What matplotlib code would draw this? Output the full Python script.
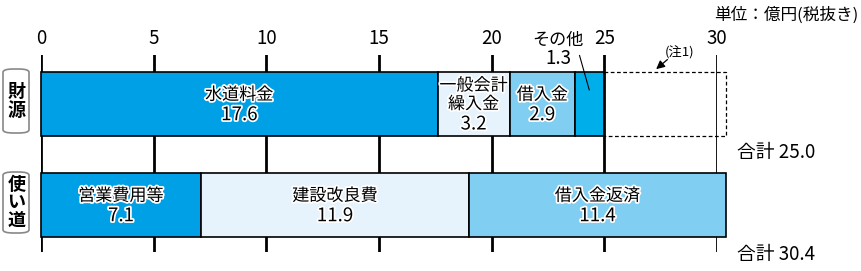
import matplotlib
matplotlib.use("Agg")
import matplotlib.pyplot as plt
import matplotlib.patheffects as pe
from matplotlib.patches import FancyBboxPatch, Rectangle

plt.rcParams['font.family'] = ['Noto Sans CJK JP', 'DejaVu Sans']

rows = ['財\n源', '使\nい\n道']
src_labels = ['水道料金', '一般会計\n繰入金', '借入金', 'その他']
src_values = [17.6, 3.2, 2.9, 1.3]
src_colors = ['#00A0E6', '#E6F3FC', '#80CEF2', '#00AEEA']
use_labels = ['営業費用等', '建設改良費', '借入金返済']
use_values = [7.1, 11.9, 11.4]
use_colors = ['#00A0E6', '#E6F3FC', '#80CEF2']
total_src = 25.0
total_use = 30.4
xticks = [0, 5, 10, 15, 20, 25, 30]

fig = plt.figure(figsize=(8.61, 2.71), dpi=100)
W, H = 861, 271
ax = fig.add_axes([41 / W, 1 - 252 / H, (717 - 41) / W, (252 - 55) / H])
ax.set_xlim(0, 30)
ax.set_ylim(1.465, -0.485)
for s in ax.spines.values():
    s.set_visible(False)
ax.set_yticks([])
ax.xaxis.tick_top()
ax.set_xticks(xticks)
ax.set_xticklabels([str(t) for t in xticks], fontsize=13.5)
ax.tick_params(axis='x', length=0, pad=4)
ax.grid(axis='x', color='black', lw=2)
ax.set_axisbelow(True)

bh = 0.634
FS_J = 12.3
FS_N = 13.5
LS = 13.4  # line step in points
stroke = [pe.withStroke(linewidth=2.5, foreground='white')]


def seg_label(x, y, lab, v):
    lines = lab.split('\n')
    n = len(lines) + 1
    top = (n - 1) / 2 * LS
    for k, t in enumerate(lines):
        ax.annotate(t, (x, y), xytext=(0, top - k * LS), textcoords='offset points',
                    ha='center', va='center', fontsize=FS_J, zorder=4,
                    path_effects=stroke)
    ax.annotate(f'{v:.1f}', (x, y), xytext=(0, top - (n - 1) * LS - 1),
                textcoords='offset points', ha='center', va='center',
                fontsize=FS_N, zorder=4, path_effects=stroke)


left = 0
for i, (lab, v, c) in enumerate(zip(src_labels, src_values, src_colors)):
    ax.barh(0, v, left=left, height=bh, color=c, edgecolor='black', lw=1.2, zorder=3,
            clip_on=False)
    if i < 3:
        seg_label(left + v / 2, 0, lab, v)
    left += v
# その他 annotation (outside the bar)
ax.annotate(src_labels[3], (22.95, -0.535), xytext=(0, 7), textcoords='offset points',
            ha='center', va='center', fontsize=FS_J, annotation_clip=False)
ax.annotate(f'{src_values[3]:.1f}', (22.95, -0.535), xytext=(0, -6.5),
            textcoords='offset points', ha='center', va='center', fontsize=FS_N,
            annotation_clip=False)
ax.plot([23.9, 24.33], [-0.48, -0.14], color='black', lw=0.8, zorder=5, clip_on=False)
# dashed remainder
ax.add_patch(Rectangle((total_src, -bh / 2), total_use - total_src, bh, fill=False,
                       ls=(0, (3, 2)), lw=0.9, ec='black', zorder=3, clip_on=False))
ax.text(28.36, -0.505, '(注1)', fontsize=9.5, ha='center', va='center')
ax.annotate('', xy=(27.3, -0.345), xytext=(27.8, -0.44), annotation_clip=False,
            arrowprops=dict(arrowstyle='-|>,head_length=0.5,head_width=0.25', lw=0.9,
                            color='black', shrinkA=0, shrinkB=0))

left = 0
for lab, v, c in zip(use_labels, use_values, use_colors):
    ax.barh(1, v, left=left, height=bh, color=c, edgecolor='black', lw=1.2, zorder=3,
            clip_on=False)
    seg_label(left + v / 2, 1, lab, v)
    left += v

ax.text(30.9, 0.485, f'合計 {total_src:.1f}', fontsize=FS_N, ha='left', va='center')
ax.text(30.9, 1.49, f'合計 {total_use:.1f}', fontsize=FS_N, ha='left', va='center',
        clip_on=False)

# row labels in rounded boxes
boxes = [(69, 133), (172, 233)]
for (y0, y1), r in zip(boxes, rows):
    fig.patches.append(FancyBboxPatch((3 / W, 1 - y1 / H), 26 / W, (y1 - y0) / H,
                                      boxstyle='round,pad=0,rounding_size=0.012',
                                      transform=fig.transFigure, fc='white',
                                      ec='#888888', lw=1.2))
    fig.text(16.5 / W, 1 - (y0 + y1) / 2 / H, r, ha='center', va='center',
             fontsize=13, linespacing=0.95, fontweight='bold')

fig.text(858 / W, 1 - 15 / H, '単位：億円(税抜き)', ha='right', va='center', fontsize=12)

fig.savefig('out.png', dpi=100)
